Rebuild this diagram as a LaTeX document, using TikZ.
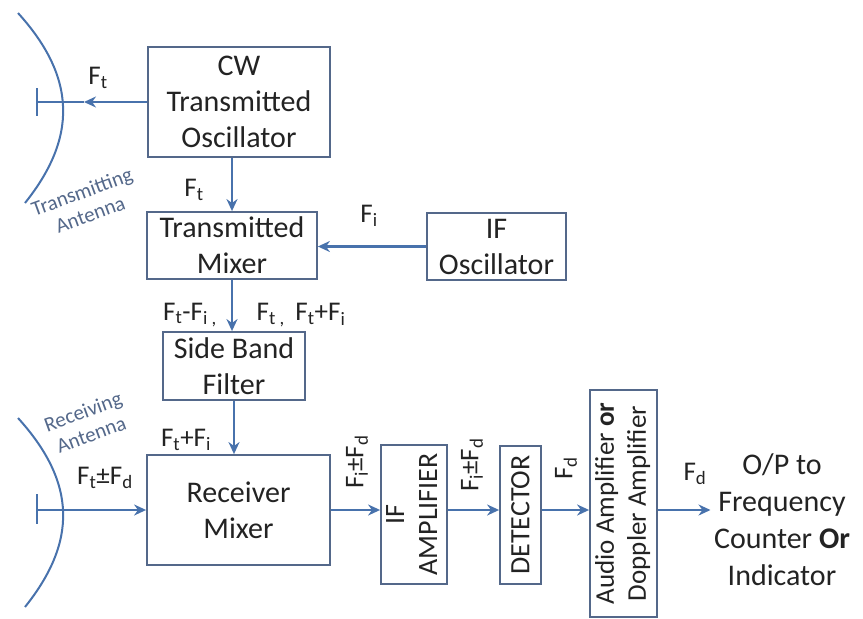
\documentclass[tikz,border=0pt]{standalone}
\usepackage{fontspec}
\setmainfont{Carlito}
\usepackage{tikz}
\usetikzlibrary{arrows.meta}
\definecolor{wire}{RGB}{72,114,172}
\definecolor{frame}{RGB}{84,104,138}
\definecolor{ink}{RGB}{35,35,35}
\newcommand{\lo}[1]{\textsubscript{#1}}
\newcommand{\dish}[3]{\draw[wire,line width=2pt] (#1,#2) .. controls (77,#2+65) and (77,#3-65) .. (#1+7,#3);}
\tikzset{
  blk/.style={draw=frame,line width=1.8pt,align=center,inner sep=0pt,text=ink,font=\fontsize{30}{36}\selectfont},
  sig/.style={draw=wire,line width=2.5pt,-{Stealth[length=12pt,width=11pt]}},
  lbl/.style={text=ink,inner sep=1pt,font=\fontsize{27}{30}\selectfont},
  ant/.style={text=frame,align=center,rotate=20,font=\fontsize{21}{24}\selectfont}
}

\begin{document}
\begin{tikzpicture}[x=1pt,y=-1pt]
\useasboundingbox (0,0) rectangle (863,619);
% ---- blocks ----
\node[blk,minimum width=182,minimum height=110] (cw) at (239,102) {CW\\Transmitted\\Oscillator};
\node[blk,minimum width=170,minimum height=67] (tmix) at (232,245.5) {Transmitted\\Mixer};
\node[blk,minimum width=139,minimum height=67] (ifosc) at (496.5,246.5) {IF\\Oscillator};
\node[blk,minimum width=142,minimum height=68] (sbf) at (234,366) {Side Band\\Filter};
\node[blk,minimum width=183,minimum height=110] (rmix) at (238.5,510) {Receiver\\Mixer};
\node[blk,minimum width=66,minimum height=139,font=\fontsize{28}{33}\selectfont] (ifamp) at (414,514.5)
  {\rotatebox{90}{\begin{tabular}{@{}c@{}}IF\\AMPLIFIER\end{tabular}}};
\node[blk,minimum width=41,minimum height=138,font=\fontsize{28}{33}\selectfont] (det) at (520.5,515)
  {\rotatebox{90}{DETECTOR}};
\node[blk,minimum width=67,minimum height=227,font=\fontsize{27}{32}\selectfont] (aud) at (623.5,503.5)
  {\rotatebox{90}{\begin{tabular}{@{}c@{}}Audio Amplifier \textbf{or}\\Doppler Amplifier\end{tabular}}};
\node[text=ink,align=center,font=\fontsize{30}{37}\selectfont] (out) at (782,520)
  {O/P to\\Frequency\\Counter \textbf{Or}\\Indicator};
% ---- antennas ----
\dish{18}{13}{203}
\dish{18}{418}{607}
\draw[wire,line width=2pt] (37,88) -- (37,116);
\draw[wire,line width=2pt] (37,494) -- (37,524);
\coordinate (txfeed) at (37,102);
\coordinate (txhead) at (84,102);
\coordinate (rxfeed) at (37,510);
\node[ant] (txant) at (86,203) {Transmitting\\Antenna};
\node[ant] (rxant) at (87,423) {Receiving\\Antenna};
% ---- signal paths ----
\draw[sig] (cw.west) -- (txhead);
\draw[wire,line width=2.5pt] (txhead) -- (txfeed);
\draw[sig] (cw.south -| tmix.north) -- (tmix.north);
\draw[sig] (ifosc.west) -- (ifosc.west -| tmix.east);
\draw[sig] (tmix.south) -- (tmix.south |- sbf.north);
\draw[sig] (sbf.south) -- (sbf.south |- rmix.north);
\draw[sig] (rxfeed) -- (rxfeed -| rmix.west);
\draw[sig] (rmix.east) -- (rmix.east -| ifamp.west);
\draw[sig] (rmix.east -| ifamp.east) -- (rmix.east -| det.west);
\draw[sig] (rmix.east -| det.east) -- (rmix.east -| aud.west);
\draw[sig] (rmix.east -| aud.east) -- (rmix.east -| out.west);
% ---- labels ----
\node[lbl] (l1) at (98,78) {F\lo{t}};
\node[lbl] (l2) at (194,190) {F\lo{t}};
\node[lbl] (l3) at (369,216) {F\lo{i}};
\node[lbl] (l4) at (190,315) {F\lo{t}-F\lo{i ,}};
\node[lbl] (l5) at (301,315) {F\lo{t ,}\, F\lo{t}+F\lo{i}};
\node[lbl] (l6) at (186,440) {F\lo{t}+F\lo{i}};
\node[lbl] (l7) at (105,478) {F\lo{t}±F\lo{d}};
\node[lbl,rotate=90] (l8) at (357,462) {F\lo{i}±F\lo{d}};
\node[lbl,rotate=90] (l9) at (472,465) {F\lo{i}±F\lo{d}};
\node[lbl,rotate=90] (l10) at (566,468) {F\lo{d}};
\node[lbl] (l11) at (695,474) {F\lo{d}};
\end{tikzpicture}
\end{document}
